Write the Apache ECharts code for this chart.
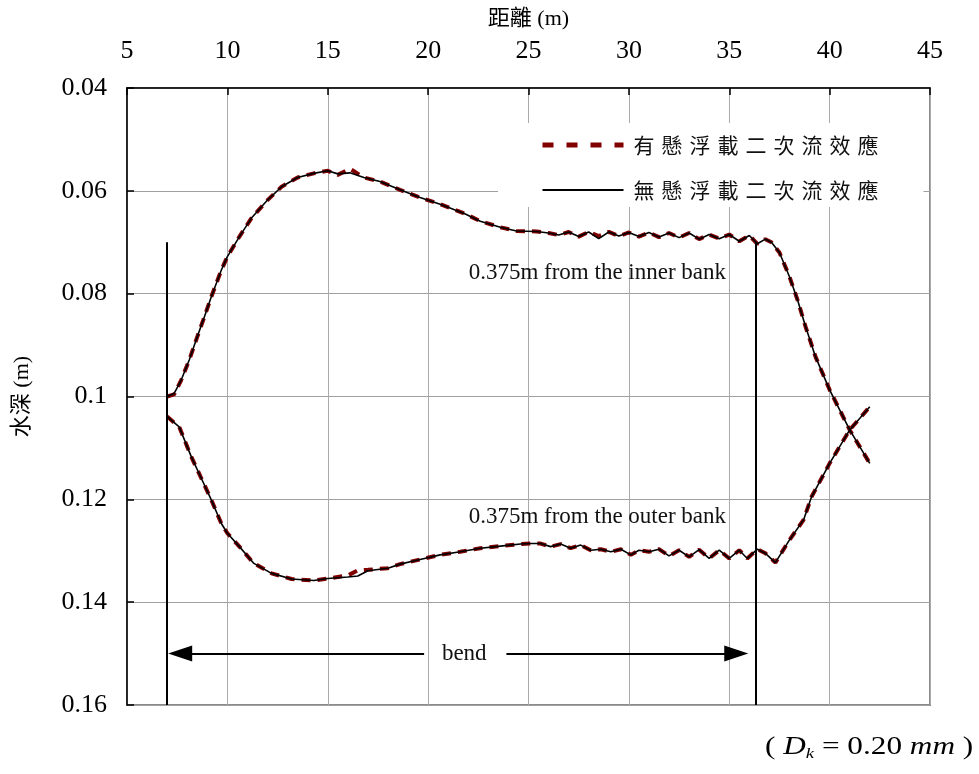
<!DOCTYPE html>
<html><head><meta charset="utf-8">
<script src="https://cdn.jsdelivr.net/npm/echarts@6/dist/echarts.min.js"></script>
<style>html,body{margin:0;padding:0;background:#fff}#c{width:979px;height:774px}</style>
</head><body><div id="c"></div>
<script>
// ---- data ----
const seriesNames = ['有懸浮載二次流效應', '無懸浮載二次流效應'];
const xAxisName = '距離 (m)';
const yAxisName = '水深 (m)';

// inner bank profile (0.375 m from the inner bank)
const innerX = [7.0,7.35,7.7,8.1,8.5,8.8,9.2,9.7,10.0,10.6,11.2,12.0,12.7,13.5,14.3,15.0,15.5,16.1,16.8,17.6,18.6,19.6,20.6,21.8,22.6,23.6,24.4,25.4,26.0,26.5,27.0,27.5,28.0,28.5,29.0,29.5,30.0,30.5,31.0,31.5,32.0,32.5,33.0,33.5,34.0,34.5,35.0,35.5,36.0,36.4,36.8,37.1,37.5,38.0,38.4,38.8,39.3,40.0,41.0,42.0];
const innerNo = [0.1000,0.0994,0.0968,0.0929,0.0884,0.0851,0.0806,0.0754,0.0728,0.0689,0.0653,0.0618,0.0592,0.0574,0.0566,0.0561,0.0567,0.0565,0.0574,0.0582,0.0598,0.0613,0.0626,0.0644,0.0659,0.0671,0.0678,0.0679,0.0682,0.0686,0.0680,0.0689,0.0680,0.0693,0.0680,0.0688,0.0681,0.0689,0.0681,0.0690,0.0682,0.0691,0.0682,0.0694,0.0685,0.0693,0.0685,0.0698,0.0687,0.0703,0.0694,0.0700,0.0720,0.0767,0.0812,0.0864,0.0923,0.0987,0.1065,0.1130];
const innerWith = [0.1000,0.0996,0.0968,0.0929,0.0884,0.0851,0.0806,0.0754,0.0728,0.0689,0.0653,0.0618,0.0592,0.0574,0.0566,0.0561,0.0569,0.0557,0.0574,0.0582,0.0598,0.0613,0.0626,0.0644,0.0659,0.0671,0.0678,0.0679,0.0682,0.0686,0.0680,0.0689,0.0680,0.0688,0.0680,0.0688,0.0681,0.0689,0.0681,0.0690,0.0682,0.0691,0.0682,0.0694,0.0685,0.0693,0.0685,0.0698,0.0687,0.0703,0.0694,0.0700,0.0720,0.0767,0.0812,0.0864,0.0923,0.0987,0.1065,0.1130];

// outer bank profile (0.375 m from the outer bank)
const outerX = [7.0,7.6,8.2,8.7,9.2,9.7,10.0,10.6,11.3,12.2,13.2,14.3,15.0,16.0,16.5,17.0,18.0,18.6,19.6,20.6,21.6,22.6,23.6,24.6,25.1,25.6,26.1,26.6,27.1,27.6,28.1,28.6,29.1,29.6,30.1,30.5,31.0,31.5,32.0,32.5,33.0,33.5,34.0,34.5,35.0,35.5,35.9,36.4,36.8,37.3,38.0,38.7,39.1,40.0,41.0,42.0];
const outerNo = [0.1039,0.1059,0.1117,0.1159,0.1201,0.1247,0.1266,0.1292,0.1324,0.1344,0.1355,0.1358,0.1354,0.1351,0.1349,0.1339,0.1334,0.1326,0.1317,0.1308,0.1302,0.1295,0.1291,0.1287,0.1286,0.1286,0.1292,0.1287,0.1295,0.1289,0.1299,0.1297,0.1302,0.1297,0.1308,0.1299,0.1302,0.1297,0.1310,0.1299,0.1312,0.1298,0.1315,0.1299,0.1315,0.1299,0.1315,0.1297,0.1305,0.1323,0.1279,0.1240,0.1195,0.1130,0.1065,0.1020];
const outerWith = [0.1039,0.1059,0.1117,0.1159,0.1201,0.1247,0.1266,0.1292,0.1324,0.1344,0.1355,0.1358,0.1354,0.1348,0.1338,0.1337,0.1334,0.1326,0.1317,0.1308,0.1302,0.1295,0.1291,0.1287,0.1286,0.1286,0.1292,0.1287,0.1295,0.1289,0.1299,0.1297,0.1302,0.1297,0.1308,0.1299,0.1302,0.1297,0.1310,0.1299,0.1312,0.1298,0.1315,0.1299,0.1315,0.1299,0.1315,0.1297,0.1305,0.1323,0.1279,0.1240,0.1195,0.1130,0.1065,0.1020];

// annotations
const bendStart = 7.0, bendEnd = 36.3, bendTop = 0.07, bendBottom = 0.16, bendY = 0.15;
const arrowLeft = [7.65, 19.8], arrowRight = [23.9, 35.35], bendLabel = ['bend', 21.8];
const textNotes = [['0.375m from the inner bank', 28.43, 0.076], ['0.375m from the outer bank', 28.43, 0.1235]];

// ---- chart ----
const zip = (xs, ys) => xs.map((x, i) => [x, ys[i]]);
const serif = "'Liberation Serif','Times New Roman',serif";
const cjk = "'Liberation Serif','Noto Sans CJK TC',serif";
const chart = echarts.init(document.getElementById('c'), null, {renderer: 'canvas'});
const red = '#800000';
const dashStyle = {color: red, width: 4, type: [9, 7]};
const solidStyle = {color: '#000', width: 1.6};

const option = {
  animation: false,
  backgroundColor: '#fff',
  grid: {left: 127, right: 49, top: 88, bottom: 69, show: true, borderColor: '#8a8a8a', borderWidth: 2, backgroundColor: 'transparent'},
  legend: {
    orient: 'vertical', left: 498, top: 123,
    backgroundColor: '#fff',
    padding: [10, 38, 5, 42],
    itemGap: 21, itemWidth: 81, itemHeight: 20,
    data: [
      {name: seriesNames[0], lineStyle: {color: red, width: 5, type: [11, 13]}},
      {name: seriesNames[1], lineStyle: {color: '#000', width: 2, type: 'solid'}}
    ],
    itemStyle: {color: 'rgba(0,0,0,0)', borderWidth: 0, opacity: 0},
    formatter: n => n.split('').map((c, i) => (i === 0 ? '{f|' : '{c|') + c + '}').join(''),
    textStyle: {
      fontFamily: "'Noto Sans CJK TC'", fontSize: 21, color: '#111', lineHeight: 24,
      rich: {
        f: {fontFamily: "'Noto Sans CJK TC'", fontSize: 21, color: '#111', width: 28, align: 'left', padding: [0, 0, 0, 5]},
        c: {fontFamily: "'Noto Sans CJK TC'", fontSize: 21, color: '#111', width: 28, align: 'left'}
      }
    }
  },
  xAxis: {
    type: 'value', position: 'top', min: 5, max: 45, interval: 5,
    name: xAxisName, nameLocation: 'middle', nameGap: 58,
    nameTextStyle: {fontFamily: cjk, fontSize: 22, color: '#000'},
    axisLine: {show: true, lineStyle: {color: '#000', width: 1.5}},
    axisTick: {show: true, inside: true, length: 7, lineStyle: {color: '#000', width: 1.5}},
    axisLabel: {fontFamily: serif, fontSize: 26, color: '#000', margin: 24},
    splitLine: {show: true, lineStyle: {color: '#aaaaaa', width: 1}}
  },
  yAxis: {
    type: 'value', inverse: true, min: 0.04, max: 0.16, interval: 0.02,
    name: yAxisName, nameLocation: 'middle', nameGap: 94, nameRotate: 90,
    nameTextStyle: {fontFamily: cjk, fontSize: 22, color: '#000'},
    axisLine: {show: true, lineStyle: {color: '#000', width: 1.5}},
    axisTick: {show: true, inside: true, length: 7, lineStyle: {color: '#000', width: 1.5}},
    axisLabel: {fontFamily: serif, fontSize: 26, color: '#000', margin: 20, formatter: v => String(+(+v).toFixed(3))},
    splitLine: {show: true, lineStyle: {color: '#a0a0a0', width: 1}}
  },
  series: [
    {name: seriesNames[0], type: 'line', data: zip(innerX, innerWith), showSymbol: false, symbol: 'none', itemStyle: {color: red}, lineStyle: dashStyle, z: 2},
    {name: seriesNames[0], type: 'line', data: zip(outerX, outerWith), showSymbol: false, symbol: 'none', itemStyle: {color: red}, lineStyle: dashStyle, z: 2},
    {name: seriesNames[1], type: 'line', data: zip(innerX, innerNo), showSymbol: false, symbol: 'none', itemStyle: {color: '#000'}, lineStyle: solidStyle, z: 3},
    {name: seriesNames[1], type: 'line', data: zip(outerX, outerNo), showSymbol: false, symbol: 'none', itemStyle: {color: '#000'}, lineStyle: solidStyle, z: 3,
      markLine: {
        silent: true, symbol: ['none', 'none'], animation: false,
        label: {show: false},
        lineStyle: {color: '#000', width: 2, type: 'solid'},
        data: [
          [{coord: [bendStart, bendTop]}, {coord: [bendStart, bendBottom]}],
          [{coord: [bendEnd, bendTop]}, {coord: [bendEnd, bendBottom]}],
          [{coord: [arrowLeft[0], bendY], symbol: 'triangle', symbolSize: [16, 24]}, {coord: [arrowLeft[1], bendY], symbol: 'none'}],
          [{coord: [arrowRight[0], bendY], symbol: 'none'}, {coord: [arrowRight[1], bendY], symbol: 'triangle', symbolSize: [16, 24]}]
        ]
      },
      markPoint: {
        silent: true, symbol: 'rect', symbolSize: 1, itemStyle: {color: 'rgba(0,0,0,0)'},
        label: {show: true, position: 'inside', formatter: '{b}', fontFamily: serif, fontSize: 23, color: '#111'},
        data: textNotes.map(t => ({name: t[0], coord: [t[1], t[2]]})).concat([{name: bendLabel[0], coord: [bendLabel[1], bendY]}])
      }
    }
  ],
  graphic: [{
    type: 'text', x: 765, y: 733, scaleX: 1.25, scaleY: 1,
    style: {
      text: '{n|( }{i|D}{s|k}{n| = 0.20 }{i|mm}{n| )}',
      rich: {
        n: {fontFamily: serif, fontSize: 25, fill: '#000'},
        i: {fontFamily: serif, fontSize: 25, fontStyle: 'italic', fill: '#000'},
        s: {fontFamily: serif, fontSize: 15, fontStyle: 'italic', fill: '#000', verticalAlign: 'bottom', padding: [14, 0, 0, 0]}
      }
    }
  }]
};
chart.setOption(option);
</script>
</body></html>
